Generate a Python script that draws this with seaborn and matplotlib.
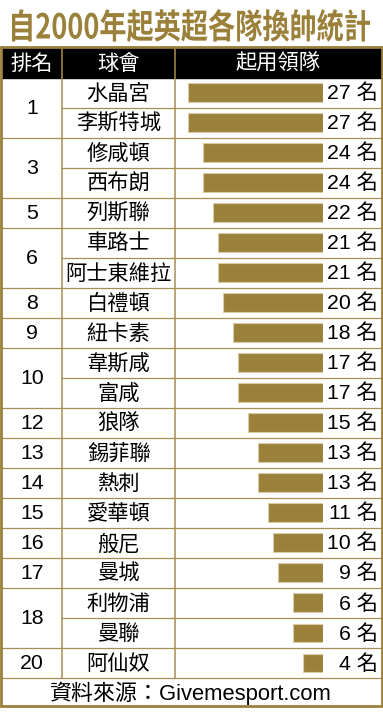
import matplotlib
matplotlib.use("Agg")
import matplotlib.pyplot as plt
import pandas as pd
import seaborn as sns
from matplotlib.font_manager import FontProperties
from matplotlib.patches import PathPatch
from matplotlib.textpath import TextPath
from matplotlib.transforms import Affine2D

title = "自2000年起英超各隊換帥統計"
headers = ["排名", "球會", "起用領隊"]
ranks = [1, 1, 3, 3, 5, 6, 6, 8, 9, 10, 10, 12, 13, 14, 15, 16, 17, 18, 18, 20]
clubs = ["水晶宮", "李斯特城", "修咸頓", "西布朗", "列斯聯", "車路士", "阿士東維拉",
         "白禮頓", "紐卡素", "韋斯咸", "富咸", "狼隊", "錫菲聯", "熱刺", "愛華頓",
         "般尼", "曼城", "利物浦", "曼聯", "阿仙奴"]
managers = [27, 27, 24, 24, 22, 21, 21, 20, 18, 17, 17, 15, 13, 13, 11, 10, 9, 6, 6, 4]
source = "資料來源：Givemesport.com"

df = pd.DataFrame({"club": clubs, "managers": managers, "rank": ranks})

gold = "#9b803a"
line_gold = "#a68f52"

sns.set_style("white")
plt.rcParams["font.family"] = ["Liberation Sans", "Noto Sans CJK TC"]

W, H = 383, 716
fig = plt.figure(figsize=(W / 100, H / 100), dpi=100)

# background / table layer in pixel units
bg = fig.add_axes([0, 0, 1, 1])
bg.set_xlim(0, W)
bg.set_ylim(H, 0)
bg.axis("off")

top_rows, bottom_rows = 77.5, 678
row_h = (bottom_rows - top_rows) / len(clubs)
x_left, x_c1, x_c2, x_right = 2, 62, 175, 381
head_top, foot_bot = 48, 706
fs = 15.3

# title: tall condensed look, drawn as a path and stretched to fit the box
tp = TextPath((0, 0), title, size=20,
              prop=FontProperties(family="Noto Sans CJK TC", weight="bold"))
ext = tp.get_extents()
t_x0, t_x1, t_top, t_bot = 12, 370, 9, 42
sx = (t_x1 - t_x0) / ext.width
sy = (t_bot - t_top) / ext.height
tr = (Affine2D().translate(-ext.x0, -ext.y0).scale(sx, -sy).translate(t_x0, t_bot)
      + bg.transData)
bg.add_patch(PathPatch(tp, transform=tr, facecolor=gold, edgecolor="none"))

# header
bg.fill_between([x_left, x_right], head_top, top_rows, color="black", zorder=1)
for txt, xc in zip(headers, [(x_left + x_c1) / 2, (x_c1 + x_c2) / 2, (x_c2 + x_right) / 2]):
    bg.text(xc, (head_top + top_rows) / 2 + 1, txt, ha="center", va="center",
            fontsize=fs, color="white", zorder=3)

# row lines
for i in range(1, len(clubs)):
    y = top_rows + i * row_h
    bg.plot([x_c1, x_right], [y, y], color=line_gold, lw=0.9, zorder=2)
    if ranks[i] != ranks[i - 1]:
        bg.plot([x_left, x_c1], [y, y], color=line_gold, lw=0.9, zorder=2)
bg.plot([x_left, x_right], [bottom_rows, bottom_rows], color=line_gold, lw=0.9, zorder=2)

# column separators
for xc in [x_c1, x_c2]:
    bg.plot([xc, xc], [head_top, bottom_rows], color=line_gold, lw=1.1, zorder=2)

# outer border
bg.plot([1, x_right + 0.5, x_right + 0.5, 1, 1],
        [head_top - 1, head_top - 1, foot_bot, foot_bot, head_top - 1],
        color=gold, lw=2, zorder=4, solid_joinstyle="miter")

# rank cells (merged for ties)
start = 0
for i in range(1, len(ranks) + 1):
    if i == len(ranks) or ranks[i] != ranks[start]:
        yc = top_rows + (start + i) / 2 * row_h
        bg.text((x_left + x_c1) / 2, yc + 1, str(ranks[start]), ha="center",
                va="center", fontsize=fs, color="black")
        start = i

# club names
for i, c in enumerate(clubs):
    bg.text((x_c1 + x_c2) / 2, top_rows + (i + 0.5) * row_h + 1, c,
            ha="center", va="center", fontsize=fs, color="black")

# footer
bg.text(191, (bottom_rows + foot_bot) / 2 + 1, source, ha="center", va="center",
        fontsize=fs + 0.5, color="black")

# bars, growing leftwards from x=323 px, 5 px per manager
bar_l, bar_r = 178, 323
ax = fig.add_axes([bar_l / W, 1 - bottom_rows / H, (bar_r - bar_l) / W,
                   (bottom_rows - top_rows) / H])
ax.patch.set_alpha(0)
sns.barplot(data=df, x="managers", y="club", orient="h", color=gold,
            saturation=1, width=0.63, edgecolor="#d8cba5", linewidth=0.8, ax=ax)
ax.set_xlim((bar_r - bar_l) / 5, 0)
ax.set_ylim(len(clubs) - 0.5, -0.5)
ax.axis("off")

# value labels right-aligned at x≈378 px
for i, v in enumerate(managers):
    ax.annotate(f"{v} 名", xy=(0, i), xytext=((378 - bar_r) * 0.72, -0.5),
                textcoords="offset points", ha="right", va="center",
                fontsize=fs, color="black", annotation_clip=False)

fig.savefig("out.png", dpi=100)
